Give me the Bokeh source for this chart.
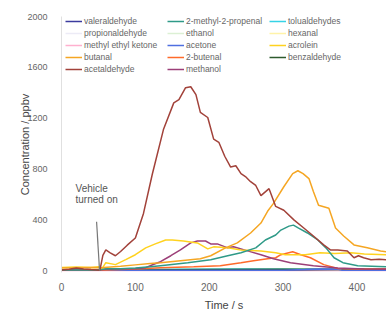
from bokeh.plotting import figure
from bokeh.models import Range1d, Legend, LegendItem, Label
from bokeh.embed import file_html
from bokeh.resources import INLINE

# ---- data (time in s, concentration in ppbv) ----
acetaldehyde_t = [0, 10, 20, 30, 40, 48, 52, 56, 60, 66, 73, 80, 89, 100, 111, 123, 138, 152, 159, 168, 175, 182,
                  188, 198, 206, 213, 221, 229, 236, 243, 249, 256, 263, 270, 281, 290, 301, 315, 328, 341, 355, 364,
                  374, 387, 396, 402, 409, 419, 430, 440]
acetaldehyde_v = [5, 10, 20, 12, 8, 5, 3, 120, 163, 140, 117, 150, 200, 257, 450, 760, 1110, 1320, 1345, 1440, 1447,
                  1385, 1245, 1205, 1035, 1010, 900, 815, 825, 763, 740, 700, 670, 590, 645, 505, 475, 397, 335, 272,
                  202, 163, 163, 155, 101, 117, 101, 86, 90, 86]

butanal_t = [0, 20, 40, 53, 80, 100, 120, 134, 161, 188, 202, 222, 238, 256, 270, 279, 287, 301, 313, 320, 327, 335,
             341, 348, 362, 371, 382, 396, 414, 432, 440]
butanal_v = [20, 22, 25, 23, 35, 45, 55, 62, 78, 93, 117, 179, 218, 296, 374, 467, 529, 660, 763, 786, 763, 724,
             622, 514, 490, 335, 272, 202, 179, 155, 148]

methylpropenal_t = [0, 30, 50, 60, 80, 100, 120, 134, 171, 202, 225, 243, 263, 276, 290, 297, 308, 314, 321, 333,
                    347, 358, 369, 381, 401, 440]
methylpropenal_v = [5, 5, 5, 15, 15, 20, 30, 39, 62, 86, 117, 140, 179, 241, 280, 319, 350, 358, 335, 296, 241,
                    179, 101, 62, 39, 31]

acrolein_t = [0, 20, 40, 50, 55, 60, 73, 87, 100, 114, 127, 141, 150, 165, 184, 198, 206, 225, 243, 270, 290, 303,
              330, 350, 370, 392, 410, 440]
acrolein_v = [25, 28, 25, 30, 15, 62, 47, 86, 125, 179, 210, 241, 241, 233, 218, 171, 187, 179, 163, 155, 140, 125,
              125, 140, 135, 140, 130, 125]

methanol_t = [0, 50, 60, 80, 100, 114, 125, 134, 148, 161, 175, 184, 195, 202, 211, 225, 233, 252, 270, 287, 310,
              341, 374, 410, 440]
methanol_v = [5, 5, 10, 12, 15, 23, 50, 70, 117, 163, 218, 233, 233, 210, 210, 179, 187, 155, 125, 93, 62, 39, 20,
              12, 10]

butenal_t = [0, 50, 80, 100, 134, 179, 215, 243, 260, 279, 290, 297, 313, 324, 337, 355, 374, 400, 440]
butenal_v = [3, 3, 8, 12, 23, 31, 39, 62, 78, 93, 101, 125, 148, 125, 101, 47, 16, 12, 12]

valeraldehyde_t = [0, 100, 200, 300, 380, 440]
valeraldehyde_v = [2, 3, 4, 5, 10, 15]
tolualdehydes_t = [0, 60, 150, 250, 330, 400, 440]
tolualdehydes_v = [3, 8, 10, 12, 10, 8, 6]
propionaldehyde_t = [0, 100, 200, 300, 440]
propionaldehyde_v = [4, 5, 6, 6, 5]
ethanol_t = [0, 100, 200, 300, 440]
ethanol_v = [5, 8, 10, 10, 8]
hexanal_t = [0, 100, 200, 300, 440]
hexanal_v = [4, 6, 8, 8, 6]
mek_t = [0, 440]
mek_v = [1, 1]
acetone_t = [0, 300, 330, 350, 375, 380, 440]
acetone_v = [2, 3, 8, 12, 10, 3, 3]
benzaldehyde_t = [0, 100, 200, 300, 400, 440]
benzaldehyde_v = [3, 5, 8, 10, 8, 6]

names = ["valeraldehyde", "propionaldehyde", "methyl ethyl ketone", "butanal", "acetaldehyde",
         "2-methyl-2-propenal", "ethanol", "acetone", "2-butenal", "methanol",
         "tolualdehydes", "hexanal", "acrolein", "benzaldehyde"]
colors = {
    "valeraldehyde": "#3b3b9e", "propionaldehyde": "#ecebf6", "methyl ethyl ketone": "#ffb0cf",
    "butanal": "#f5a623", "acetaldehyde": "#a2423a", "2-methyl-2-propenal": "#2f9a88",
    "ethanol": "#dcf0d4", "acetone": "#4f6fe0", "2-butenal": "#ff6a2a", "methanol": "#9c3f78",
    "tolualdehydes": "#36d3e6", "hexanal": "#fff3a8", "acrolein": "#ffd21f", "benzaldehyde": "#2d5a2d",
}
series = {
    "valeraldehyde": (valeraldehyde_t, valeraldehyde_v), "propionaldehyde": (propionaldehyde_t, propionaldehyde_v),
    "methyl ethyl ketone": (mek_t, mek_v), "butanal": (butanal_t, butanal_v),
    "acetaldehyde": (acetaldehyde_t, acetaldehyde_v), "2-methyl-2-propenal": (methylpropenal_t, methylpropenal_v),
    "ethanol": (ethanol_t, ethanol_v), "acetone": (acetone_t, acetone_v), "2-butenal": (butenal_t, butenal_v),
    "methanol": (methanol_t, methanol_v), "tolualdehydes": (tolualdehydes_t, tolualdehydes_v),
    "hexanal": (hexanal_t, hexanal_v), "acrolein": (acrolein_t, acrolein_v),
    "benzaldehyde": (benzaldehyde_t, benzaldehyde_v),
}
draw_order = ["propionaldehyde", "ethanol", "hexanal", "methyl ethyl ketone", "valeraldehyde", "tolualdehydes",
              "benzaldehyde", "acetone", "2-butenal", "methanol", "acrolein", "2-methyl-2-propenal", "butanal",
              "acetaldehyde"]
legend_cols = [names[0:5], names[5:10], names[10:14]]

p = figure(width=386, height=313, output_backend="svg", toolbar_location=None,
           x_range=Range1d(0, 440), y_range=Range1d(-15, 2000),
           min_border_left=61, min_border_right=0, min_border_top=16, min_border_bottom=38)
p.outline_line_color = None
p.xgrid.grid_line_color = None
p.ygrid.grid_line_color = None
p.background_fill_color = "white"

renderers = {}
for n in draw_order:
    t, v = series[n]
    renderers[n] = p.line(t, v, line_color=colors[n], line_width=1.5)

# vehicle annotation
p.segment(x0=[47.5], y0=[385], x1=[51.5], y1=[0], line_color="#777777", line_width=1.2)
p.add_layout(Label(x=19, y=646, text="Vehicle", text_font="Liberation Sans", text_font_size="10px",
                   text_color="#555555", text_baseline="middle"))
p.add_layout(Label(x=19, y=560, text="turned on", text_font="Liberation Sans", text_font_size="10px",
                   text_color="#555555", text_baseline="middle"))

# axes
p.xaxis.ticker = [0, 100, 200, 300, 400]
p.yaxis.ticker = [0, 400, 800, 1200, 1600, 2000]
for ax in (p.xaxis[0], p.yaxis[0]):
    ax.major_tick_line_color = None
    ax.minor_tick_line_color = None
    ax.major_label_text_font = "Liberation Sans"
    ax.major_label_text_font_size = "10px"
    ax.major_label_text_color = "#666666"
    ax.axis_label_text_font = "Liberation Sans"
    ax.axis_label_text_font_size = "11px"
    ax.axis_label_text_font_style = "normal"
    ax.axis_label_text_color = "#444444"
p.yaxis.major_label_text_font_size = "9px"
p.xaxis.axis_line_color = None
p.yaxis.axis_line_color = "#e0e0e0"
p.xaxis.axis_label = "Time / s"
p.yaxis.axis_label = "Concentration / ppbv"
p.xaxis.major_label_standoff = 4
p.yaxis.major_label_standoff = 8
p.xaxis.axis_label_standoff = 5
p.yaxis.axis_label_standoff = -7

# legends: three columns
col_x = [4, 106, 208]
for ci, col in enumerate(legend_cols):
    items = [LegendItem(label=n, renderers=[renderers[n]]) for n in col]
    h = 12 * len(col)
    lg = Legend(items=items, location=(col_x[ci], 259 - 2 - h), orientation="vertical",
                label_text_font="Liberation Sans", label_text_font_size="8.5px", label_text_color="#666666",
                glyph_width=17, glyph_height=12, label_height=12, label_standoff=2, spacing=0,
                padding=0, margin=0, border_line_color=None, background_fill_alpha=0)
    p.add_layout(lg, "center")

open("out.html", "w").write(file_html(p, INLINE))
